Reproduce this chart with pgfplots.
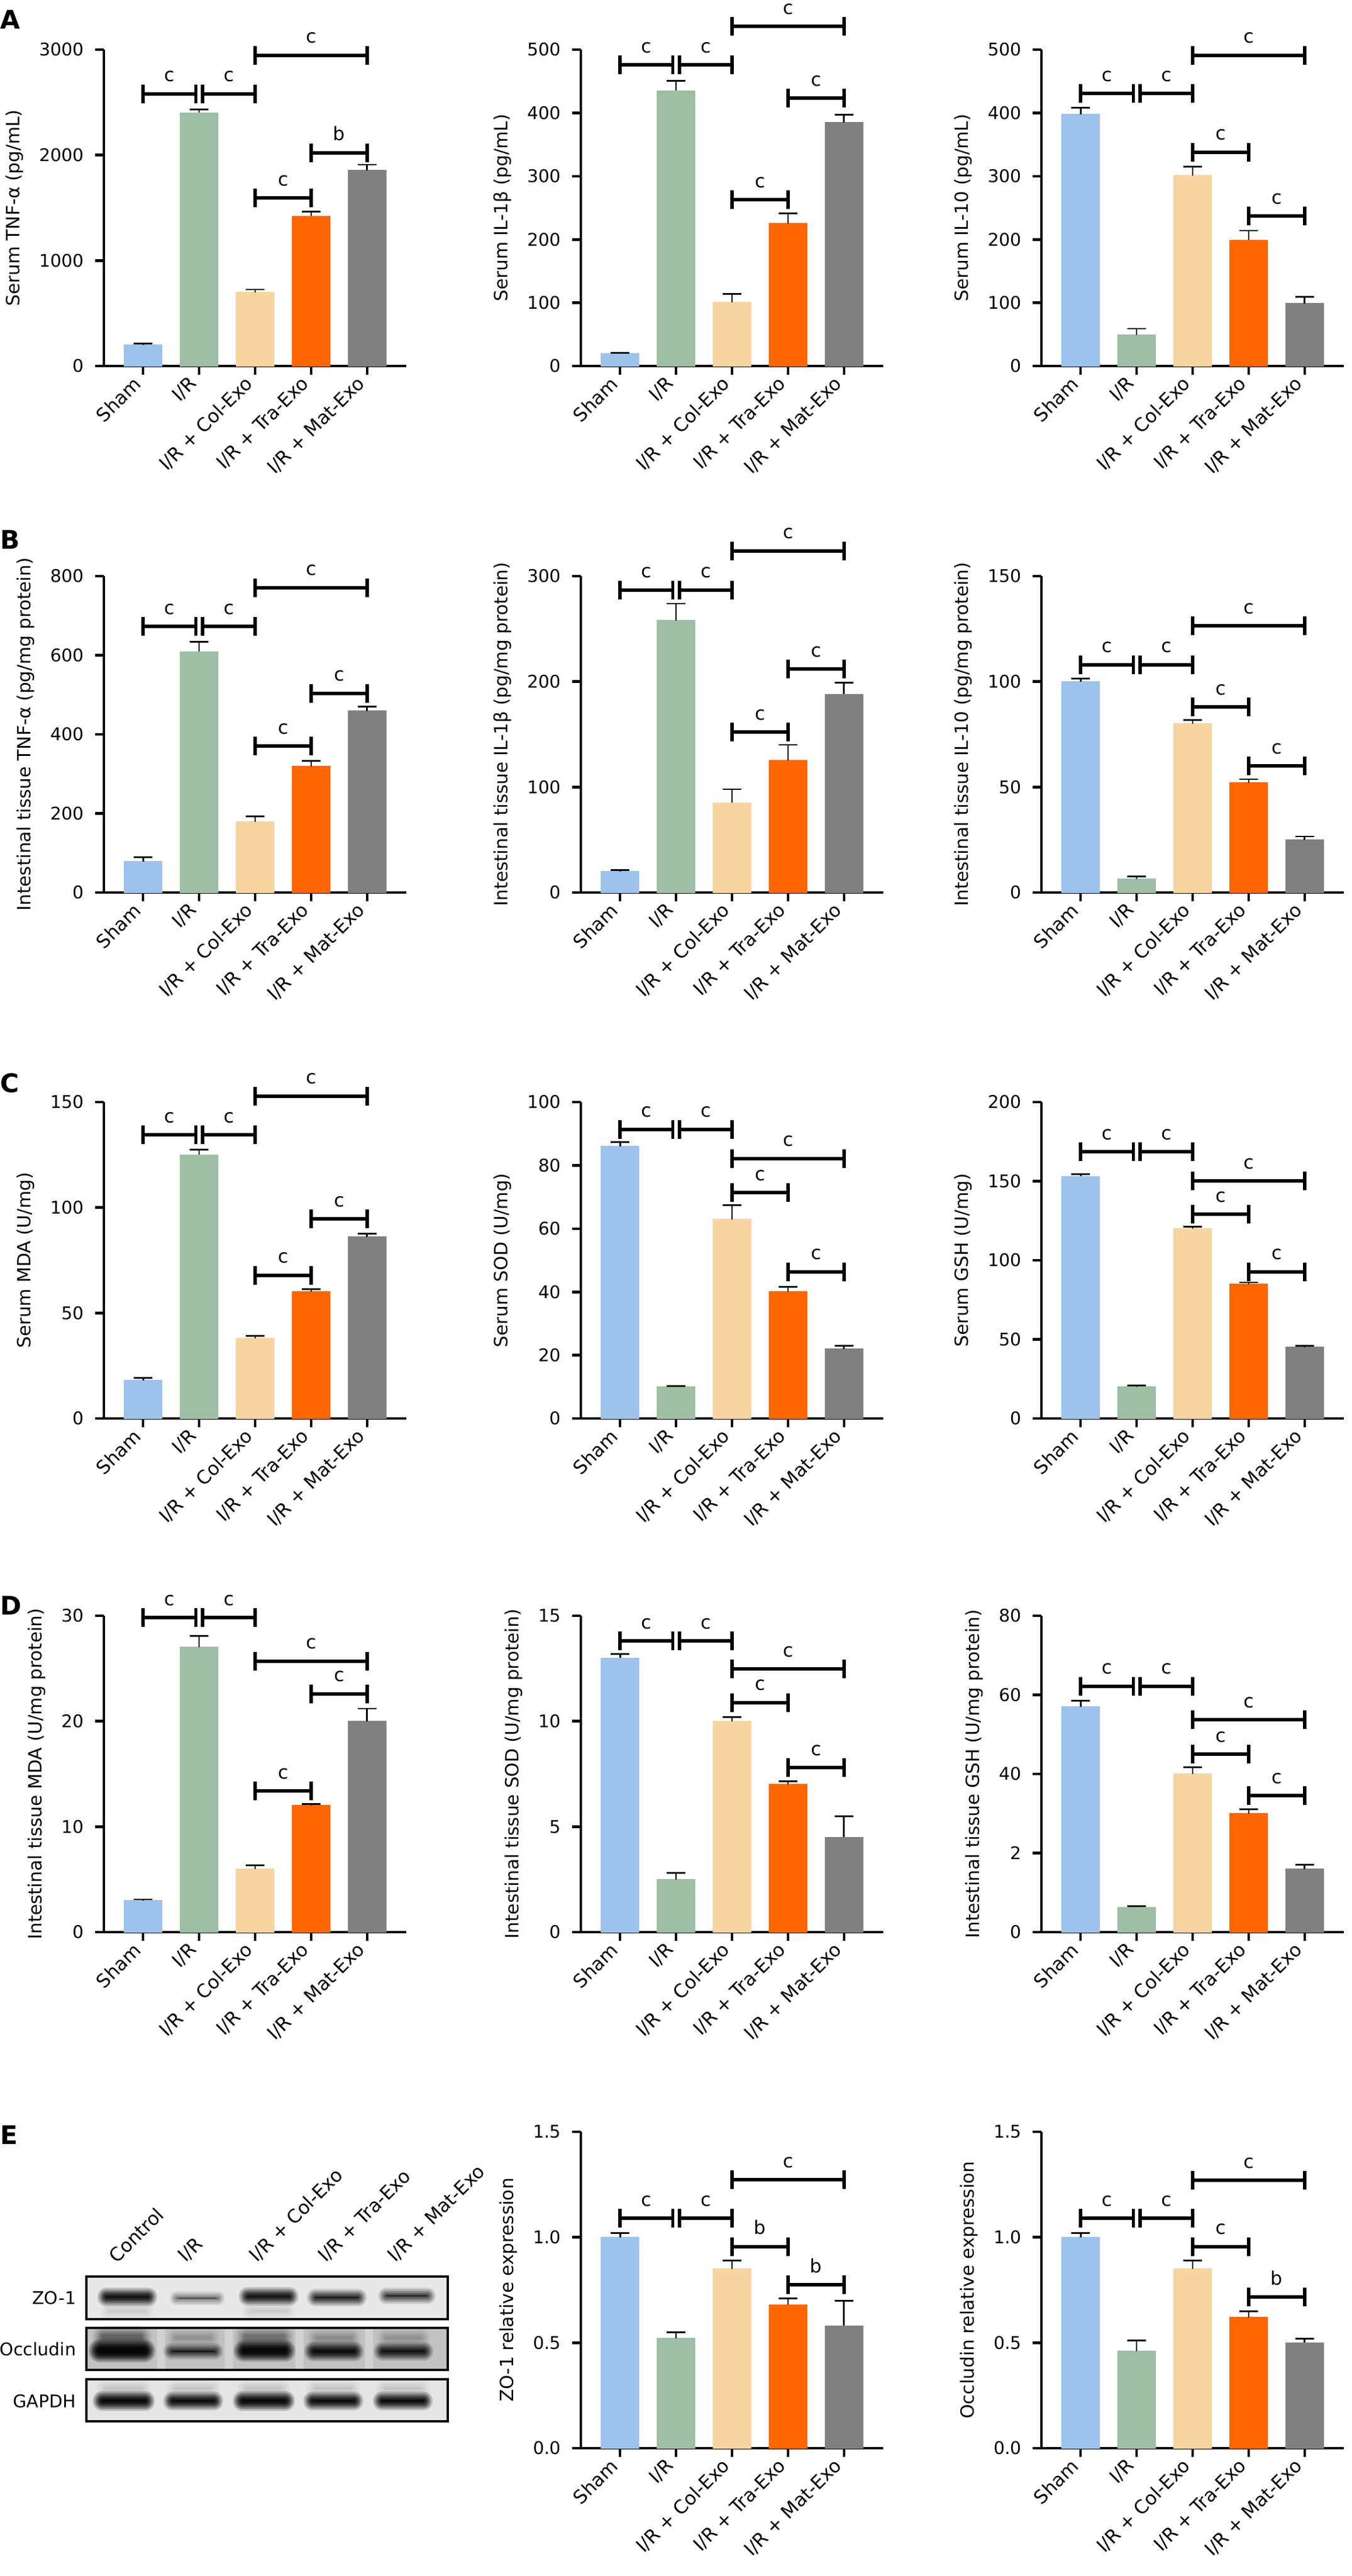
\documentclass[border=0pt]{standalone}
\usepackage{fontspec}
\setmainfont{DejaVu Sans}
\usepackage{pgfplots}
\pgfplotsset{compat=1.18}
\definecolor{cSham}{RGB}{157,195,236}
\definecolor{cIR}{RGB}{158,190,165}
\definecolor{cCol}{RGB}{248,212,161}
\definecolor{cTra}{RGB}{255,102,0}
\definecolor{cMat}{RGB}{128,128,128}
\newcommand{\fs}{\fontsize{8pt}{9.6pt}\selectfont}
\newcommand{\fy}{\fontsize{7.5pt}{9pt}\selectfont}
\pgfplotsset{panel/.style={
  width=129.5pt, height=135.5pt, scale only axis, anchor=south west,
  xmin=-0.7, xmax=4.7, ymin=0,
  axis lines=left, axis line style={-, line width=1.2pt},
  tick align=outside, major tick length=3.75pt,
  every tick/.style={black, line width=1.15pt},
  xtick={0,1,2,3,4},
  xticklabels={Sham, I/R, I/R + Col-Exo, I/R + Tra-Exo, I/R + Mat-Exo},
  x tick label style={rotate=45, anchor=east, font=\fs},
  y tick label style={font=\fy, xshift=-1.25pt},
  ylabel style={font=\fontsize{7.8pt}{9.3pt}\selectfont},
  scaled y ticks=false,
  ybar, clip=false,
  /pgf/number format/assume math mode=true,
  /pgf/number format/set thousands separator={},
}}
\newcommand{\BarP}[4]{\addplot[draw=#1, fill=#1, bar shift=0pt, bar width=16pt,
  error bars/.cd, y dir=plus, y explicit,
  error bar style={draw=black, line width=0.7pt},
  error mark options={rotate=90, mark size=4pt, draw=black, line width=0.7pt}]
  coordinates {(#2,#3) +- (0,#4)};}
% bracket: x1, x2, y, label, midpoint
\newcommand{\Br}[5]{%
  \draw[line width=1.5pt] (axis cs:#1,#3) -- (axis cs:#2,#3);
  \draw[line width=1.4pt] ([yshift=-4pt]axis cs:#1,#3) -- ([yshift=4pt]axis cs:#1,#3);
  \draw[line width=1.4pt] ([yshift=-4pt]axis cs:#2,#3) -- ([yshift=4pt]axis cs:#2,#3);
  \node[font=\fs, anchor=base, inner sep=0pt] at ([yshift=5.2pt]axis cs:#5,#3) {#4};}
% blurred band: cx, cy, half width, half height, strength
\newcommand{\band}[5]{%
  \foreach \d/\o in {9/0.14,6/0.2,3/0.26,0/0.32,-3/0.38,-6/0.44}{%
    \pgfmathsetmacro\op{min(0.95,#5*\o)}%
    \pgfmathsetmacro\hx{#3+\d}%
    \pgfmathsetmacro\hy{max(1,#4+\d)}%
    \pgfmathsetlengthmacro\rc{0.25pt*0.95*\hy}%
    \fill[black, opacity=\op, rounded corners=\rc] (#1-\hx,#2-\hy) rectangle (#1+\hx,#2+\hy);
  }}
\begin{document}
\begin{tikzpicture}
\path[use as bounding box] (0,0) rectangle (578.75pt,-1103.25pt);
% ---------------- Row A
\begin{axis}[panel, at={(44.5pt,-156.75pt)}, ymax=3000, ytick={0,1000,2000,3000}, ylabel={Serum TNF-α (pg/mL)}]
\BarP{cSham}{0}{200}{13}
\BarP{cIR}{1}{2400}{32}
\BarP{cCol}{2}{700}{25}
\BarP{cTra}{3}{1420}{45}
\BarP{cMat}{4}{1855}{55}
\Br{0}{0.94}{2581}{c}{0.47}
\Br{1.06}{2}{2581}{c}{1.53}
\Br{2}{4}{2946}{c}{3}
\Br{2}{3}{1594}{c}{2.5}
\Br{3}{4}{2022}{b}{3.5}
\end{axis}
\begin{axis}[panel, at={(248.75pt,-156.75pt)}, ymax=500, ytick={0,100,...,500}, ylabel={Serum IL-1β (pg/mL)}]
\BarP{cSham}{0}{20}{1}
\BarP{cIR}{1}{435}{16}
\BarP{cCol}{2}{101}{13}
\BarP{cTra}{3}{225}{16}
\BarP{cMat}{4}{385}{12}
\Br{0}{0.94}{476}{c}{0.47}
\Br{1.06}{2}{476}{c}{1.53}
\Br{2}{4}{537}{c}{3}
\Br{2}{3}{263}{c}{2.5}
\Br{3}{4}{423}{c}{3.5}
\end{axis}
\begin{axis}[panel, at={(446pt,-156.75pt)}, ymax=500, ytick={0,100,...,500}, ylabel={Serum IL-10 (pg/mL)}]
\BarP{cSham}{0}{398}{10}
\BarP{cIR}{1}{49}{10}
\BarP{cCol}{2}{301}{14}
\BarP{cTra}{3}{199}{15}
\BarP{cMat}{4}{99}{10}
\Br{0}{0.94}{431}{c}{0.47}
\Br{1.06}{2}{431}{c}{1.53}
\Br{2}{4}{491}{c}{3}
\Br{2}{3}{338}{c}{2.5}
\Br{3}{4}{237}{c}{3.5}
\end{axis}
% ---------------- Row B
\begin{axis}[panel, at={(44.5pt,-382.25pt)}, ymax=800, ytick={0,200,...,800}, ylabel={Intestinal tissue TNF-α (pg/mg protein)}]
\BarP{cSham}{0}{79}{10}
\BarP{cIR}{1}{609}{25}
\BarP{cCol}{2}{179}{14}
\BarP{cTra}{3}{319}{14}
\BarP{cMat}{4}{459}{11}
\Br{0}{0.94}{673}{c}{0.47}
\Br{1.06}{2}{673}{c}{1.53}
\Br{2}{4}{771}{c}{3}
\Br{2}{3}{370}{c}{2.5}
\Br{3}{4}{504}{c}{3.5}
\end{axis}
\begin{axis}[panel, at={(248.75pt,-382.25pt)}, ymax=300, ytick={0,100,200,300}, ylabel={Intestinal tissue IL-1β (pg/mg protein)}]
\BarP{cSham}{0}{20}{1.5}
\BarP{cIR}{1}{258}{16}
\BarP{cCol}{2}{85}{13}
\BarP{cTra}{3}{125}{15}
\BarP{cMat}{4}{188}{11}
\Br{0}{0.94}{287}{c}{0.47}
\Br{1.06}{2}{287}{c}{1.53}
\Br{2}{4}{324}{c}{3}
\Br{2}{3}{152}{c}{2.5}
\Br{3}{4}{212}{c}{3.5}
\end{axis}
\begin{axis}[panel, at={(446pt,-382.25pt)}, ymax=150, ytick={0,50,100,150}, ylabel={Intestinal tissue IL-10 (pg/mg protein)}]
\BarP{cSham}{0}{100}{1.5}
\BarP{cIR}{1}{6.4}{1.2}
\BarP{cCol}{2}{80}{1.7}
\BarP{cTra}{3}{52}{1.7}
\BarP{cMat}{4}{25}{1.6}
\Br{0}{0.94}{108}{c}{0.47}
\Br{1.06}{2}{108}{c}{1.53}
\Br{2}{4}{126.5}{c}{3}
\Br{2}{3}{88}{c}{2.5}
\Br{3}{4}{60}{c}{3.5}
\end{axis}
% ---------------- Row C
\begin{axis}[panel, at={(44.5pt,-607.5pt)}, ymax=150, ytick={0,50,100,150}, ylabel={Serum MDA (U/mg)}]
\BarP{cSham}{0}{18}{1.3}
\BarP{cIR}{1}{125}{2.4}
\BarP{cCol}{2}{38}{1.1}
\BarP{cTra}{3}{60}{1.4}
\BarP{cMat}{4}{86}{1.7}
\Br{0}{0.94}{134.4}{c}{0.47}
\Br{1.06}{2}{134.4}{c}{1.53}
\Br{2}{4}{152.9}{c}{3}
\Br{2}{3}{67.9}{c}{2.5}
\Br{3}{4}{94.7}{c}{3.5}
\end{axis}
\begin{axis}[panel, at={(248.75pt,-607.5pt)}, ymax=100, ytick={0,20,...,100}, ylabel={Serum SOD (U/mg)}]
\BarP{cSham}{0}{86}{1.3}
\BarP{cIR}{1}{10}{0.3}
\BarP{cCol}{2}{63}{4.4}
\BarP{cTra}{3}{40}{1.6}
\BarP{cMat}{4}{22}{1}
\Br{0}{0.94}{91.4}{c}{0.47}
\Br{1.06}{2}{91.4}{c}{1.53}
\Br{2}{4}{82.2}{c}{3}
\Br{2}{3}{71.4}{c}{2.5}
\Br{3}{4}{46.4}{c}{3.5}
\end{axis}
\begin{axis}[panel, at={(446pt,-607.5pt)}, ymax=200, ytick={0,50,...,200}, ylabel={Serum GSH (U/mg)}]
\BarP{cSham}{0}{153}{1.5}
\BarP{cIR}{1}{20}{1}
\BarP{cCol}{2}{120}{1.2}
\BarP{cTra}{3}{85}{1}
\BarP{cMat}{4}{45}{1}
\Br{0}{0.94}{168.5}{c}{0.47}
\Br{1.06}{2}{168.5}{c}{1.53}
\Br{2}{4}{150.1}{c}{3}
\Br{2}{3}{129}{c}{2.5}
\Br{3}{4}{92.8}{c}{3.5}
\end{axis}
% ---------------- Row D
\begin{axis}[panel, at={(44.5pt,-827.5pt)}, ymax=30, ytick={0,10,20,30}, ylabel={Intestinal tissue MDA (U/mg protein)}]
\BarP{cSham}{0}{3}{0.1}
\BarP{cIR}{1}{27}{1.1}
\BarP{cCol}{2}{6}{0.35}
\BarP{cTra}{3}{12}{0.15}
\BarP{cMat}{4}{20}{1.2}
\Br{0}{0.94}{29.84}{c}{0.47}
\Br{1.06}{2}{29.84}{c}{1.53}
\Br{2}{4}{25.7}{c}{3}
\Br{2}{3}{13.4}{c}{2.5}
\Br{3}{4}{22.6}{c}{3.5}
\end{axis}
\begin{axis}[panel, at={(248.75pt,-827.5pt)}, ymax=15, ytick={0,5,10,15}, ylabel={Intestinal tissue SOD (U/mg protein)}]
\BarP{cSham}{0}{13}{0.19}
\BarP{cIR}{1}{2.5}{0.3}
\BarP{cCol}{2}{10}{0.2}
\BarP{cTra}{3}{7}{0.15}
\BarP{cMat}{4}{4.5}{1.0}
\Br{0}{0.94}{13.8}{c}{0.47}
\Br{1.06}{2}{13.8}{c}{1.53}
\Br{2}{4}{12.48}{c}{3}
\Br{2}{3}{10.89}{c}{2.5}
\Br{3}{4}{7.8}{c}{3.5}
\end{axis}
\begin{axis}[panel, at={(446pt,-827.5pt)}, ymax=80, ytick={0,20,40,60,80}, yticklabels={0,2,40,60,80}, ylabel={Intestinal tissue GSH (U/mg protein)}]
\BarP{cSham}{0}{57}{1.5}
\BarP{cIR}{1}{6.3}{0.3}
\BarP{cCol}{2}{40}{1.7}
\BarP{cTra}{3}{30}{1.1}
\BarP{cMat}{4}{16}{1}
\Br{0}{0.94}{62.2}{c}{0.47}
\Br{1.06}{2}{62.2}{c}{1.53}
\Br{2}{4}{53.7}{c}{3}
\Br{2}{3}{45}{c}{2.5}
\Br{3}{4}{34.5}{c}{3.5}
\end{axis}
% ---------------- Row E
\begin{axis}[panel, at={(248.75pt,-1048.5pt)}, ymax=1.5, ytick={0,0.5,1,1.5}, yticklabels={0.0,0.5,1.0,1.5}, ylabel={ZO-1 relative expression}]
\BarP{cSham}{0}{1.0}{0.02}
\BarP{cIR}{1}{0.52}{0.03}
\BarP{cCol}{2}{0.85}{0.04}
\BarP{cTra}{3}{0.68}{0.03}
\BarP{cMat}{4}{0.58}{0.12}
\Br{0}{0.94}{1.09}{c}{0.47}
\Br{1.06}{2}{1.09}{c}{1.53}
\Br{2}{4}{1.272}{c}{3}
\Br{2}{3}{0.956}{b}{2.5}
\Br{3}{4}{0.775}{b}{3.5}
\end{axis}
\begin{axis}[panel, at={(446pt,-1048.5pt)}, ymax=1.5, ytick={0,0.5,1,1.5}, yticklabels={0.0,0.5,1.0,1.5}, ylabel={Occludin relative expression}]
\BarP{cSham}{0}{1.0}{0.02}
\BarP{cIR}{1}{0.46}{0.05}
\BarP{cCol}{2}{0.85}{0.04}
\BarP{cTra}{3}{0.62}{0.03}
\BarP{cMat}{4}{0.5}{0.02}
\Br{0}{0.94}{1.09}{c}{0.47}
\Br{1.06}{2}{1.09}{c}{1.53}
\Br{2}{4}{1.27}{c}{3}
\Br{2}{3}{0.956}{c}{2.5}
\Br{3}{4}{0.717}{b}{3.5}
\end{axis}
% ---------------- letters and western blot
\begin{scope}[x=0.25pt,y=-0.25pt]
\foreach \L/\yy in {A/49,B/940,C/1871,D/2766,E/3673}{
  \node[anchor=base west, inner sep=0pt, font=\bfseries\fontsize{11pt}{13pt}\selectfont] at (0,\yy) {\L};
}
% blot backgrounds
\fill[black!9] (148,3900) rectangle (767,3973);
\fill[black!24] (148,3988) rectangle (767,4060);
\fill[black!10] (148,4076) rectangle (767,4148);
\foreach \gx in {276,392,513,632}{
  \fill[white, opacity=0.28] (\gx-7,3990) rectangle (\gx+7,4058);
}
% ZO-1
\band{218}{3959}{38}{7}{0.07}
\band{460}{3959}{38}{7}{0.07}
\band{218}{3935}{42}{7}{1.2}
\band{338}{3937}{38}{3}{0.55}
\band{460}{3934}{42}{7}{1.15}
\band{577}{3936}{42}{6}{0.95}
\band{697}{3933}{40}{5}{0.85}
% Occludin
\band{209}{4004}{42}{11}{0.35}
\band{331}{4005}{38}{9}{0.15}
\band{453}{4004}{42}{11}{0.28}
\band{572}{4005}{38}{9}{0.18}
\band{691}{4005}{38}{9}{0.15}
\band{209}{4027}{48}{11}{1.4}
\band{331}{4028}{42}{5}{0.95}
\band{453}{4027}{44}{10}{1.35}
\band{572}{4028}{42}{8}{1.2}
\band{691}{4028}{42}{7}{1.1}
% GAPDH
\foreach \gx in {212,331,452,571,690}{\band{\gx}{4092}{38}{8}{0.08}}
\band{212}{4113}{44}{8}{1.35}
\band{331}{4113}{42}{7}{1.3}
\band{452}{4113}{44}{8}{1.35}
\band{571}{4113}{42}{7}{1.3}
\band{690}{4113}{42}{7}{1.3}
\draw[line width=1pt] (148,3900) rectangle (767,3973);
\draw[line width=1pt] (148,3988) rectangle (767,4060);
\draw[line width=1pt] (148,4076) rectangle (767,4148);
\node[anchor=east, inner sep=0pt, font=\fy] at (131,3937) {ZO-1};
\node[anchor=east, inner sep=0pt, font=\fy] at (131,4024) {Occludin};
\node[anchor=east, inner sep=0pt, font=\fy] at (131,4114) {GAPDH};
\foreach \xx/\T in {217/Control, 337/I\slash R, 459/I\slash R + Col-Exo, 577/I\slash R + Tra-Exo, 696/I\slash R + Mat-Exo}{
  \node[rotate=45, anchor=south west, inner sep=0pt, font=\fs] at (\xx-16,3880) {\T};
}
\end{scope}
\end{tikzpicture}
\end{document}
